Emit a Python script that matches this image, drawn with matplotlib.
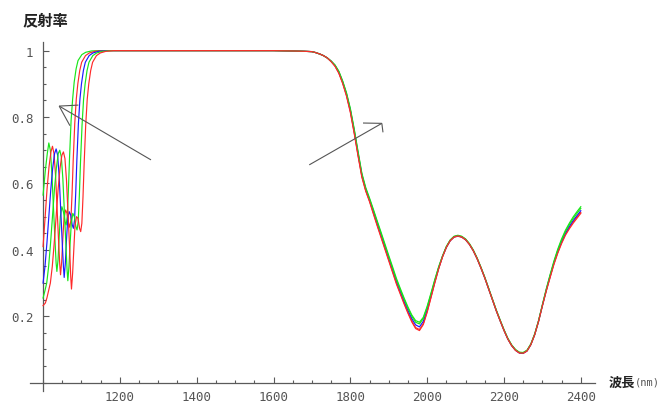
import matplotlib
matplotlib.use("Agg")
import matplotlib.pyplot as plt
from matplotlib.ticker import MultipleLocator, FixedFormatter, FixedLocator

# ---- reflectance spectra (wavelength in nm, reflectance 0..1) ----
# short-wavelength side: each spectrum sampled on its own knots
wl_left_g1 = [1000, 1006, 1011, 1015, 1019, 1023, 1027, 1031, 1034, 1036, 1039, 1042, 1045, 1049,
              1053, 1057, 1060, 1063, 1066, 1069, 1073, 1077, 1081, 1086, 1091, 1101, 1111, 1126, 1146]
r_left_g1 = [0.565, 0.64, 0.69, 0.722, 0.70, 0.63, 0.53, 0.43, 0.36, 0.335, 0.37, 0.44, 0.50, 0.53,
             0.515, 0.485, 0.475, 0.50, 0.58, 0.68, 0.79, 0.854, 0.905, 0.945, 0.97, 0.988, 0.995, 0.999, 1.0]

wl_left_r1 = [1000, 1005.5, 1010.5, 1015.5, 1020.5, 1024.5, 1028.5, 1032.5, 1036.5, 1040.5, 1043.5, 1045.5,
              1048.5, 1051.5, 1054.5, 1058.5, 1062.5, 1066.5, 1069.5, 1072.5, 1075.5, 1078.5, 1082.5,
              1086.5, 1090.5, 1095.5, 1100.5, 1110.5, 1120.5, 1135.5, 1155.5]
r_left_r1 = [0.41, 0.50, 0.585, 0.65, 0.695, 0.712, 0.69, 0.625, 0.525, 0.425, 0.355, 0.325,
             0.365, 0.435, 0.495, 0.52, 0.51, 0.48, 0.468, 0.49, 0.57, 0.67, 0.78,
             0.854, 0.90, 0.94, 0.965, 0.985, 0.993, 0.998, 1.0]

wl_left_b = [1000, 1005, 1010, 1015, 1020, 1025, 1030, 1034, 1038, 1042, 1046, 1050, 1053, 1055, 1058,
             1061, 1064, 1068, 1072, 1076, 1079, 1082, 1085, 1088, 1092, 1096, 1100, 1105, 1110, 1120,
             1130, 1145, 1165]
r_left_b = [0.30, 0.35, 0.42, 0.50, 0.58, 0.645, 0.69, 0.704, 0.685, 0.62, 0.52, 0.42, 0.35, 0.317, 0.36,
            0.43, 0.49, 0.515, 0.505, 0.475, 0.465, 0.49, 0.57, 0.67, 0.78, 0.854, 0.90, 0.94, 0.965, 0.985,
            0.993, 0.998, 1.0]

wl_left_g2 = [1000, 1004.5, 1009.5, 1014.5, 1019.5, 1024.5, 1029.5, 1034.5, 1039.5, 1043.5, 1047.5, 1051.5,
              1055.5, 1059.5, 1062.5, 1064.5, 1067.5, 1070.5, 1073.5, 1077.5, 1081.5, 1085.5, 1088.5,
              1091.5, 1094.5, 1097.5, 1101.5, 1105.5, 1109.5, 1114.5, 1119.5, 1129.5, 1139.5, 1154.5, 1174.5]
r_left_g2 = [0.255, 0.275, 0.30, 0.35, 0.42, 0.50, 0.58, 0.645, 0.69, 0.70, 0.68, 0.615,
             0.515, 0.415, 0.34, 0.307, 0.35, 0.42, 0.48, 0.51, 0.50, 0.47, 0.46,
             0.485, 0.565, 0.665, 0.775, 0.854, 0.90, 0.94, 0.965, 0.985, 0.993, 0.998, 1.0]

wl_left_r2 = [1000, 1006, 1010, 1014, 1019, 1024, 1029, 1034, 1039, 1044, 1049, 1053, 1057, 1061, 1065,
              1069, 1072, 1074, 1077, 1080, 1083, 1087, 1091, 1095, 1098, 1101, 1104, 1107, 1111, 1115,
              1119, 1124, 1129, 1139, 1149, 1164, 1184]
r_left_r2 = [0.232, 0.24, 0.255, 0.275, 0.30, 0.35, 0.42, 0.50, 0.58, 0.645, 0.685, 0.695, 0.675, 0.61, 0.51,
             0.41, 0.32, 0.282, 0.33, 0.40, 0.47, 0.50, 0.495, 0.465, 0.455, 0.48, 0.56, 0.66, 0.775, 0.854,
             0.90, 0.94, 0.965, 0.985, 0.993, 0.998, 1.0]

# stop band plateau, shared by all spectra
wl_plateau = [1200, 1300, 1400, 1500, 1600, 1650, 1680]
r_plateau = [1.0, 1.0, 1.0, 1.0, 1.0, 0.999, 0.998]

# long-wavelength side, common 10 nm grid
wl_long = list(range(1700, 2401, 10))
r_long_g1 = [0.997, 0.994, 0.990, 0.985, 0.978, 0.969, 0.957, 0.938, 0.909, 0.873, 0.826, 0.765, 0.697,
             0.631, 0.588, 0.556, 0.522, 0.487, 0.453, 0.418, 0.383, 0.349, 0.314, 0.284, 0.255, 0.228,
             0.204, 0.187, 0.182, 0.197, 0.230, 0.270, 0.311, 0.349, 0.382, 0.410, 0.430, 0.441, 0.444,
             0.441, 0.433, 0.419, 0.400, 0.376, 0.348, 0.318, 0.285, 0.252, 0.219, 0.189, 0.160, 0.134,
             0.114, 0.100, 0.092, 0.091, 0.098, 0.117, 0.147, 0.187, 0.235, 0.282, 0.325, 0.366, 0.402,
             0.433, 0.459, 0.480, 0.499, 0.515, 0.530]
r_long_r1 = [0.997, 0.994, 0.990, 0.985, 0.978, 0.967, 0.954, 0.933, 0.903, 0.865, 0.817, 0.754, 0.686,
             0.621, 0.579, 0.547, 0.511, 0.475, 0.440, 0.405, 0.370, 0.335, 0.300, 0.270, 0.240, 0.212,
             0.186, 0.166, 0.160, 0.178, 0.214, 0.258, 0.302, 0.344, 0.379, 0.407, 0.427, 0.438, 0.441,
             0.438, 0.430, 0.416, 0.397, 0.373, 0.345, 0.315, 0.282, 0.249, 0.216, 0.186, 0.157, 0.131,
             0.111, 0.097, 0.089, 0.088, 0.095, 0.114, 0.144, 0.184, 0.231, 0.276, 0.318, 0.358, 0.392,
             0.422, 0.447, 0.466, 0.484, 0.499, 0.513]
r_long_b = [0.997, 0.994, 0.990, 0.985, 0.978, 0.968, 0.955, 0.935, 0.905, 0.868, 0.820, 0.758, 0.690,
            0.625, 0.582, 0.550, 0.515, 0.480, 0.445, 0.410, 0.375, 0.340, 0.305, 0.275, 0.245, 0.218,
            0.193, 0.174, 0.168, 0.185, 0.220, 0.262, 0.305, 0.345, 0.380, 0.408, 0.428, 0.439, 0.442,
            0.439, 0.431, 0.417, 0.398, 0.374, 0.346, 0.316, 0.283, 0.250, 0.217, 0.187, 0.158, 0.132,
            0.112, 0.098, 0.090, 0.089, 0.096, 0.115, 0.145, 0.185, 0.232, 0.278, 0.320, 0.360, 0.395,
            0.425, 0.450, 0.470, 0.488, 0.503, 0.518]
r_long_g2 = [0.997, 0.994, 0.990, 0.985, 0.978, 0.968, 0.956, 0.937, 0.907, 0.871, 0.823, 0.762, 0.694,
             0.628, 0.585, 0.553, 0.519, 0.484, 0.449, 0.414, 0.379, 0.344, 0.310, 0.280, 0.251, 0.224,
             0.200, 0.182, 0.177, 0.193, 0.227, 0.267, 0.309, 0.348, 0.381, 0.410, 0.429, 0.440, 0.443,
             0.440, 0.432, 0.418, 0.399, 0.375, 0.347, 0.317, 0.284, 0.251, 0.218, 0.188, 0.159, 0.133,
             0.113, 0.099, 0.091, 0.090, 0.097, 0.116, 0.146, 0.186, 0.234, 0.280, 0.323, 0.363, 0.399,
             0.429, 0.455, 0.476, 0.494, 0.510, 0.525]
r_long_r2 = [0.997, 0.994, 0.990, 0.985, 0.978, 0.967, 0.953, 0.932, 0.901, 0.863, 0.814, 0.751, 0.683,
             0.619, 0.577, 0.545, 0.508, 0.472, 0.437, 0.402, 0.367, 0.332, 0.297, 0.267, 0.237, 0.209,
             0.183, 0.163, 0.157, 0.175, 0.212, 0.256, 0.301, 0.343, 0.379, 0.408, 0.428, 0.439, 0.442,
             0.439, 0.431, 0.417, 0.398, 0.374, 0.346, 0.316, 0.283, 0.250, 0.217, 0.187, 0.158, 0.132,
             0.112, 0.098, 0.090, 0.089, 0.096, 0.115, 0.145, 0.185, 0.232, 0.276, 0.316, 0.356, 0.390,
             0.419, 0.444, 0.463, 0.480, 0.495, 0.510]

spectra = [
    (wl_left_g1, r_left_g1, r_long_g1, "#19e619"),
    (wl_left_r1, r_left_r1, r_long_r1, "#ff2a2a"),
    (wl_left_b, r_left_b, r_long_b, "#1a1aff"),
    (wl_left_g2, r_left_g2, r_long_g2, "#19e619"),
    (wl_left_r2, r_left_r2, r_long_r2, "#ff2a2a"),
]

x_major = [1200, 1400, 1600, 1800, 2000, 2200, 2400]
x_labels = ["1200", "1400", "1600", "1800", "2000", "2200", "2400"]
y_major = [0.2, 0.4, 0.6, 0.8, 1.0]
y_labels = ["0.2", "0.4", "0.6", "0.8", "1"]

# direction arrows: (tail, tip, barb1, barb2) in data coordinates
arrow_left = [(1281, 0.671), (1042, 0.833), (1092, 0.836), (1070, 0.774)]
arrow_right = [(1693, 0.656), (1882, 0.781), (1833, 0.782), (1885, 0.754)]

W, H = 672, 406
fig = plt.figure(figsize=(W / 100, H / 100), dpi=100)
ax = fig.add_axes([30 / W, 14 / H, 565 / W, 349 / H])
ax.set_xlim(966, 2437)
ax.set_ylim(-0.025, 1.026)

for wl_l, r_l, r_g, col in spectra:
    wl = wl_l + wl_plateau + wl_long
    r = r_l + r_plateau + r_g
    ax.plot(wl, r, color=col, lw=0.85, solid_joinstyle="round", zorder=3)

axis_col = "#5a5a5a"
for arr in (arrow_left, arrow_right):
    tail, tip, b1, b2 = arr
    for a, b in ((tail, tip), (b1, tip), (b2, tip)):
        ax.plot([a[0], b[0]], [a[1], b[1]], color="#555555", lw=0.8, zorder=4,
                solid_capstyle="butt")

# Mathematica-style crossing axes
for side in ("top", "right"):
    ax.spines[side].set_visible(False)
ax.spines["left"].set_position(("data", 1000))
ax.spines["bottom"].set_position(("data", 0))
for side in ("left", "bottom"):
    ax.spines[side].set_color(axis_col)
    ax.spines[side].set_linewidth(0.9)

ax.xaxis.set_major_locator(FixedLocator(x_major))
ax.xaxis.set_major_formatter(FixedFormatter(x_labels))
ax.xaxis.set_minor_locator(MultipleLocator(50))
ax.yaxis.set_major_locator(FixedLocator(y_major))
ax.yaxis.set_major_formatter(FixedFormatter(y_labels))
ax.yaxis.set_minor_locator(MultipleLocator(0.05))

mono = "DejaVu Sans Mono"
ax.tick_params(which="both", direction="in", color=axis_col, width=0.8)
ax.tick_params(which="major", length=4)
ax.tick_params(which="minor", length=2.2)
ax.tick_params(axis="x", which="major", pad=5, labelsize=9, labelcolor="#555555")
ax.tick_params(axis="y", which="major", pad=7, labelsize=9, labelcolor="#555555")
for lab in ax.get_xticklabels() + ax.get_yticklabels():
    lab.set_fontfamily(mono)
ax.patch.set_alpha(0)

cjk = ["Noto Sans CJK JP", "DejaVu Sans"]
fig.text(22 / W, 1 - 20 / H, "反射率", family=cjk, fontsize=11, fontweight="bold",
         ha="left", va="center", color="#222222")
fig.text(609 / W, 1 - 383 / H, "波長", family=cjk, fontsize=9.5, fontweight="bold",
         ha="left", va="center", color="#222222")
fig.text(635 / W, 1 - 383 / H, "(nm)", family=mono, fontsize=7.5,
         ha="left", va="center", color="#555555")

fig.savefig("out.png", dpi=100)
